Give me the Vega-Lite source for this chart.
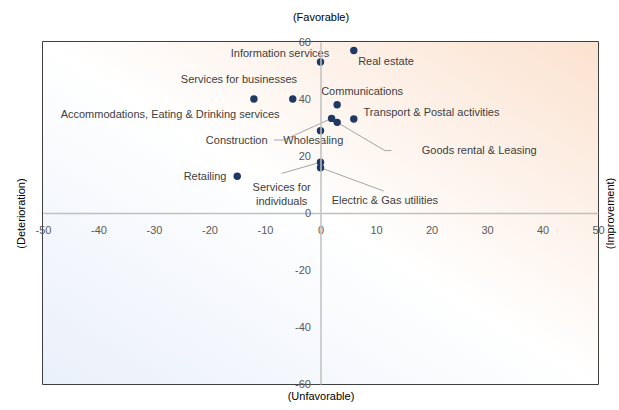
{
  "$schema": "https://vega.github.io/schema/vega-lite/v6.json",
  "width": 555,
  "height": 342,
  "autosize": {"type": "none"},
  "padding": {"left": 43, "top": 42, "right": 21, "bottom": 26},
  "background": "#ffffff",
  "config": {
    "font": "Liberation Sans",
    "view": {"stroke": "#000000", "strokeWidth": 1.5},
    "axis": {"grid": false, "labelFont": "Liberation Sans", "titleFont": "Liberation Sans", "titleFontWeight": "normal"}
  },
  "datasets": {
    "sectors": [
      {"sector": "Information services", "trend": 0, "conditions": 53, "labelX": -7.3, "labelY": 55.8},
      {"sector": "Real estate", "trend": 6, "conditions": 57, "labelX": 11.8, "labelY": 53.0},
      {"sector": "Services for businesses", "trend": -5, "conditions": 40, "labelX": -14.7, "labelY": 46.7},
      {"sector": "Accommodations, Eating & Drinking services", "trend": -12, "conditions": 40, "labelX": -27.1, "labelY": 34.4},
      {"sector": "Communications", "trend": 3, "conditions": 38, "labelX": 7.5, "labelY": 42.5},
      {"sector": "Transport & Postal activities", "trend": 6, "conditions": 33, "labelX": 20.0, "labelY": 35.1},
      {"sector": "Construction", "trend": 2, "conditions": 33.2, "labelX": -15.1, "labelY": 25.4},
      {"sector": "Goods rental & Leasing", "trend": 3, "conditions": 31.8, "labelX": 28.6, "labelY": 21.6},
      {"sector": "Wholesaling", "trend": 0, "conditions": 28.9, "labelX": -1.3, "labelY": 25.3},
      {"sector": ["Services for", "individuals"], "trend": 0, "conditions": 17.8, "labelX": -7.0, "labelY": 8.8},
      {"sector": "Electric & Gas utilities", "trend": 0, "conditions": 15.9, "labelX": 11.6, "labelY": 4.2},
      {"sector": "Retailing", "trend": -15, "conditions": 12.9, "labelX": -20.8, "labelY": 12.6}
    ],
    "leaders": [
      {"sector": "Construction", "seq": 1, "trend": -8.4, "conditions": 25.6},
      {"sector": "Construction", "seq": 2, "trend": -6.6, "conditions": 25.6},
      {"sector": "Construction", "seq": 3, "trend": 2, "conditions": 33.2},
      {"sector": "Goods rental & Leasing", "seq": 1, "trend": 3, "conditions": 31.8},
      {"sector": "Goods rental & Leasing", "seq": 2, "trend": 11.6, "conditions": 21.9},
      {"sector": "Goods rental & Leasing", "seq": 3, "trend": 12.8, "conditions": 21.9},
      {"sector": "Services for individuals", "seq": 1, "trend": -7.0, "conditions": 13.9},
      {"sector": "Services for individuals", "seq": 2, "trend": 0, "conditions": 17.8},
      {"sector": "Electric & Gas utilities", "seq": 1, "trend": 0, "conditions": 15.9},
      {"sector": "Electric & Gas utilities", "seq": 2, "trend": 11.4, "conditions": 7.7}
    ]
  },
  "layer": [
    {
      "data": {"values": [{"x0": -50, "x1": 50, "y0": -60, "y1": 60}]},
      "mark": {
        "type": "rect",
        "color": {
          "gradient": "linear",
          "x1": 0, "y1": 1, "x2": 1, "y2": 0,
          "stops": [
            {"offset": 0, "color": "#eaf0fa"},
            {"offset": 0.5, "color": "#ffffff"},
            {"offset": 1, "color": "#fbe2d0"}
          ]
        }
      },
      "encoding": {
        "x": {
          "field": "x0", "type": "quantitative",
          "scale": {"domain": [-50, 50], "nice": false},
          "axis": {
            "orient": "bottom", "offset": -171, "title": null, "zindex": 1,
            "values": [-50, -40, -30, -20, -10, 0, 10, 20, 30, 40, 50],
            "labelExpr": "toString(datum.value)",
            "ticks": false, "labelPadding": 11, "labelFontSize": 11, "labelColor": "#595959",
            "labelFlush": false, "labelOverlap": false,
            "domainColor": "#c0c0c0", "domainWidth": 1.5
          }
        },
        "x2": {"field": "x1"},
        "y": {
          "field": "y0", "type": "quantitative",
          "scale": {"domain": [-60, 60], "nice": false},
          "axis": {
            "orient": "left", "offset": -277.5, "title": null, "zindex": 1,
            "values": [-60, -40, -20, 0, 20, 40, 60],
            "labelExpr": "toString(datum.value)",
            "ticks": false, "labelPadding": 10, "labelFontSize": 11, "labelColor": "#595959",
            "labelFlush": false, "labelOverlap": false,
            "domainColor": "#c0c0c0", "domainWidth": 1.5
          }
        },
        "y2": {"field": "y1"}
      }
    },
    {
      "data": {"name": "leaders"},
      "mark": {"type": "line", "color": "#a6a6a6", "strokeWidth": 1},
      "encoding": {
        "x": {
          "field": "trend", "type": "quantitative",
          "axis": {"orient": "top", "title": "(Favorable)", "labels": false, "ticks": false, "domain": false,
                   "titleFontSize": 11, "titleColor": "#000000", "titlePadding": 20}
        },
        "y": {
          "field": "conditions", "type": "quantitative",
          "axis": {"orient": "right", "title": "(Improvement)", "labels": false, "ticks": false, "domain": false,
                   "titleFontSize": 11, "titleColor": "#000000", "titleAngle": 270, "titlePadding": 17}
        },
        "detail": {"field": "sector"},
        "order": {"field": "seq"}
      }
    },
    {
      "data": {"name": "sectors"},
      "mark": {"type": "circle", "color": "#1f3864", "opacity": 1, "size": 55},
      "encoding": {
        "x": {
          "field": "trend", "type": "quantitative",
          "axis": {"orient": "bottom", "title": "(Unfavorable)", "labels": false, "ticks": false, "domain": false,
                   "titleFontSize": 11, "titleColor": "#000000", "titlePadding": 6}
        },
        "y": {
          "field": "conditions", "type": "quantitative",
          "axis": {"orient": "left", "title": "(Deterioration)", "labels": false, "ticks": false, "domain": false,
                   "titleFontSize": 11, "titleColor": "#000000", "titlePadding": 17}
        }
      }
    },
    {
      "data": {"name": "sectors"},
      "mark": {"type": "text", "fontSize": 11, "color": "#404040", "align": "center", "baseline": "middle", "lineHeight": 14},
      "encoding": {
        "x": {"field": "labelX", "type": "quantitative", "axis": null},
        "y": {"field": "labelY", "type": "quantitative", "axis": null},
        "text": {"field": "sector"}
      }
    }
  ],
  "resolve": {"axis": {"x": "independent", "y": "independent"}}
}
